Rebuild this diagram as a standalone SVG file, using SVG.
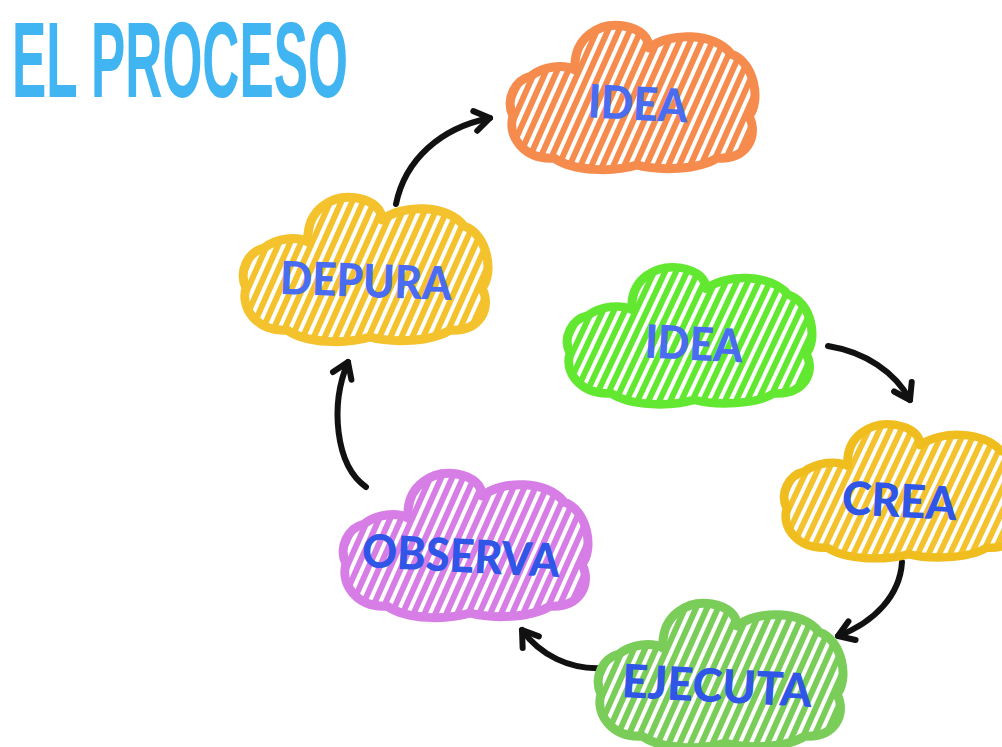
<svg xmlns="http://www.w3.org/2000/svg" width="1002" height="747" viewBox="0 0 1002 747">
  <style>
    .cloud { stroke-width: 9; stroke-linejoin: round; }
    .lbl { font-family: Lato, "Open Sans", "Liberation Sans", sans-serif; font-weight: 900; font-size: 46px; text-anchor: start; }
    .conn path { fill: none; stroke: #111; stroke-width: 6; stroke-linecap: round; marker-end: url(#arrow); }
  </style>
  <defs>
    <path id="cloudShape" d="M 22,52 C 35,42 55,40 66,46 C 64,12 92,-2 115,2 C 132,5 140,14 140,24 C 160,8 205,8 222,30 C 246,38 252,78 240,92 C 250,112 238,136 208,134 C 190,146 150,147 128,141 C 105,148 65,148 45,134 C 15,136 -2,112 4,92 C -4,75 6,56 22,52 Z"/>
    <pattern id="hOrange" width="10" height="10" patternUnits="userSpaceOnUse" patternTransform="rotate(24)"><rect width="10" height="10" fill="#fff"/><rect width="6" height="10" fill="#f58b4c"/></pattern>
    <pattern id="hYellow" width="10" height="10" patternUnits="userSpaceOnUse" patternTransform="rotate(24)"><rect width="10" height="10" fill="#fff"/><rect width="6" height="10" fill="#f3c22c"/></pattern>
    <pattern id="hGreen" width="10" height="10" patternUnits="userSpaceOnUse" patternTransform="rotate(24)"><rect width="10" height="10" fill="#fff"/><rect width="6" height="10" fill="#62e830"/></pattern>
    <pattern id="hPurple" width="10" height="10" patternUnits="userSpaceOnUse" patternTransform="rotate(24)"><rect width="10" height="10" fill="#fff"/><rect width="6" height="10" fill="#d77de6"/></pattern>
    <pattern id="hLeaf" width="10" height="10" patternUnits="userSpaceOnUse" patternTransform="rotate(24)"><rect width="10" height="10" fill="#fff"/><rect width="6" height="10" fill="#7bcd5a"/></pattern>
    <marker id="arrow" markerUnits="userSpaceOnUse" markerWidth="40" markerHeight="40" viewBox="-20 -20 40 40" refX="0" refY="0" orient="auto" overflow="visible">
      <path d="M -15,-10 L 0,0 L -15,10" fill="none" stroke="#111" stroke-width="6" stroke-linecap="round" stroke-linejoin="round"/>
    </marker>
  </defs>
  <rect width="1002" height="747" fill="#fff"/>

  <text id="title" x="12" y="97" font-family="'Liberation Sans', Arial, sans-serif" font-weight="bold" font-size="108" fill="#41b4f2" textLength="336" lengthAdjust="spacingAndGlyphs">EL PROCESO</text>

  <g class="conn" id="connectors">
    <path d="M 396,204 C 405,160 440,128 490,118"/>
    <path d="M 828,346 C 865,352 895,372 910,400"/>
    <path d="M 902,562 C 900,595 875,622 838,636"/>
    <path d="M 603,668 C 570,670 540,655 522,630"/>
    <path d="M 366,487 C 335,465 330,405 348,362"/>
  </g>

  <g id="node-idea-top">
    <use href="#cloudShape" class="cloud" transform="translate(509,24)" fill="url(#hOrange)" stroke="#f58b4c"/>
    <text class="lbl" x="588" y="120" fill="#4a6cf0" textLength="100" lengthAdjust="spacingAndGlyphs" transform="rotate(3 638 103)">IDEA</text>
  </g>
  <g id="node-depura">
    <use href="#cloudShape" class="cloud" transform="translate(242,196)" fill="url(#hYellow)" stroke="#f3c22c"/>
    <text class="lbl" x="280" y="297" fill="#4a6cf0" textLength="172" lengthAdjust="spacingAndGlyphs" transform="rotate(2 366 280)">DEPURA</text>
  </g>
  <g id="node-idea">
    <use href="#cloudShape" class="cloud" transform="translate(566,266) scale(1,0.95)" fill="url(#hGreen)" stroke="#62e830"/>
    <text class="lbl" x="645" y="360" fill="#4a6cf0" textLength="98" lengthAdjust="spacingAndGlyphs" transform="rotate(3 694 343)">IDEA</text>
  </g>
  <g id="node-crea">
    <use href="#cloudShape" class="cloud" transform="translate(783,423) scale(0.98,0.93)" fill="url(#hYellow)" stroke="#f0bd1e"/>
    <text class="lbl" x="842" y="517" fill="#2f56e6" textLength="115" lengthAdjust="spacingAndGlyphs" transform="rotate(3 899 499)">CREA</text>
  </g>
  <g id="node-ejecuta">
    <use href="#cloudShape" class="cloud" transform="translate(597,602)" fill="url(#hLeaf)" stroke="#7bcd5a"/>
    <text class="lbl" x="622" y="702" fill="#2f56e6" textLength="190" lengthAdjust="spacingAndGlyphs" transform="rotate(3 717 683)">EJECUTA</text>
  </g>
  <g id="node-observa">
    <use href="#cloudShape" class="cloud" transform="translate(342,472)" fill="url(#hPurple)" stroke="#d77de6"/>
    <text class="lbl" x="362" y="572" fill="#2f56e6" textLength="198" lengthAdjust="spacingAndGlyphs" transform="rotate(3 460 553)">OBSERVA</text>
  </g>
</svg>
